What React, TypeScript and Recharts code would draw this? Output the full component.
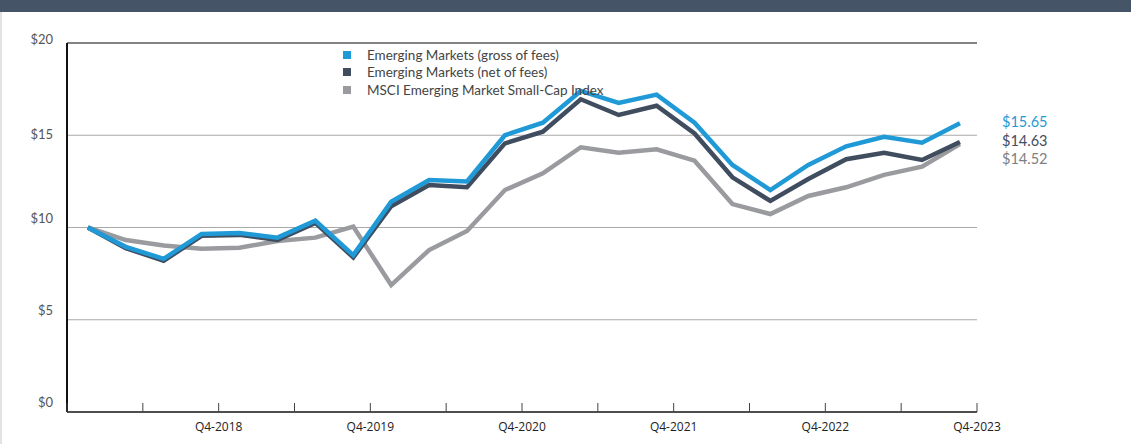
import React from 'react';
import { LineChart, Line, XAxis, YAxis, CartesianGrid, ReferenceLine } from 'recharts';

// Quarter-end values of a $10 investment (x measured in quarters after Q4-2017)
const startOffset = 0.55;
const grossOfFees = [10.0, 8.95, 8.3, 9.65, 9.7, 9.45, 10.37, 8.5, 11.4, 12.57, 12.5, 15.0, 15.68, 17.4, 16.75, 17.2, 15.68, 13.39, 12.03, 13.39, 14.4, 14.92, 14.6, 15.65];
const netOfFees = [10.0, 8.88, 8.2, 9.55, 9.6, 9.33, 10.25, 8.38, 11.15, 12.3, 12.18, 14.56, 15.19, 16.95, 16.1, 16.6, 15.1, 12.72, 11.44, 12.63, 13.7, 14.05, 13.66, 14.63];
const msciIndex = [10.0, 9.32, 9.02, 8.85, 8.9, 9.27, 9.45, 10.05, 6.88, 8.78, 9.81, 12.03, 12.94, 14.35, 14.05, 14.24, 13.62, 11.27, 10.73, 11.71, 12.18, 12.85, 13.3, 14.52];

const xTicks = [0, 2, 4, 6, 8, 10, 12, 14, 16, 18, 20, 22, 24];
const xTickLabels: Record<number, string> = { 4: 'Q4-2018', 8: 'Q4-2019', 12: 'Q4-2020', 16: 'Q4-2021', 20: 'Q4-2022', 24: 'Q4-2023' };
const yTicks = [0, 5, 10, 15, 20];
const yTickLabels = ['$0', '$5', '$10', '$15', '$20'];

const seriesNames = ['Emerging Markets (gross of fees)', 'Emerging Markets (net of fees)', 'MSCI Emerging Market Small-Cap Index'];
const endLabels = ['$15.65', '$14.63', '$14.52'];

const COLORS = ['#1f9ad6', '#3f4d5f', '#9a9b9f'];
const END_COLORS = ['#1f9ad6', '#3f4d5f', '#7d7e82'];

const chartData = grossOfFees.map((g, i) => ({
  x: i + startOffset,
  gross: g,
  net: netOfFees[i],
  idx: msciIndex[i],
}));

const FONT = 'Lato, "Open Sans", sans-serif';

const XTick = (props: any) => {
  const { x, y, payload } = props;
  const label = xTickLabels[payload.value];
  return (
    <g>
      <line x1={x} x2={x} y1={y} y2={y - 9} stroke="#444" strokeWidth={1} />
      {label && (
        <text x={x} y={y + 19} textAnchor="middle" fontSize={12} fill="#222" fontFamily='"Open Sans", sans-serif'>
          {label}
        </text>
      )}
    </g>
  );
};

const yDy: Record<number, number> = { 20: 1, 15: 4, 10: -5, 5: -5, 0: -5 };

const YTick = (props: any) => {
  const { x, y, payload } = props;
  const i = yTicks.indexOf(payload.value);
  return (
    <text x={x} y={y + (yDy[payload.value] ?? 0)} textAnchor="end" fontSize={13} fill="#555" fontFamily={FONT}>
      {yTickLabels[i]}
    </text>
  );
};

export default function App() {
  return (
    <div style={{ position: 'absolute', left: 0, top: 0, width: 1131, height: 444, background: '#fff', overflow: 'hidden' }}>
      <div style={{ position: 'absolute', left: 0, top: 0, width: 1131, height: 12, background: '#455567' }} />
      <div style={{ position: 'absolute', left: 0, top: 12, width: 2, height: 432, background: '#e2e2e2' }} />
      <LineChart width={1131} height={444} data={chartData} margin={{ top: 43, right: 154, bottom: 0, left: 7 }}>
        <CartesianGrid vertical={false} stroke="#a9a9a9" strokeWidth={1} />
        <ReferenceLine y={20} stroke="#6a6a6a" strokeWidth={1.3} />
        <XAxis
          type="number"
          dataKey="x"
          domain={[0, 24]}
          ticks={xTicks}
          interval={0}
          height={32}
          tickSize={0}
          tickMargin={0}
          tickLine={false}
          axisLine={{ stroke: '#222', strokeWidth: 1.5 }}
          tick={<XTick />}
        />
        <YAxis
          type="number"
          domain={[0, 20]}
          ticks={yTicks}
          width={60}
          tickSize={0}
          tickMargin={14}
          tickLine={false}
          axisLine={{ stroke: '#111', strokeWidth: 2 }}
          tick={<YTick />}
        />
        <Line dataKey="idx" stroke={COLORS[2]} strokeWidth={4.5} dot={false} isAnimationActive={false} />
        <Line dataKey="net" stroke={COLORS[1]} strokeWidth={4.5} dot={false} isAnimationActive={false} />
        <Line dataKey="gross" stroke={COLORS[0]} strokeWidth={4.5} dot={false} isAnimationActive={false} />
      </LineChart>
      <div style={{ position: 'absolute', left: 343, top: 46, fontFamily: FONT, fontSize: 13.5, color: '#444' }}>
        {seriesNames.map((n, i) => (
          <div key={n} style={{ display: 'flex', alignItems: 'center', height: 17.5 }}>
            <div style={{ width: 8, height: 8, background: COLORS[i], marginRight: 16 }} />
            <span>{n}</span>
          </div>
        ))}
      </div>
      {endLabels.map((t, i) => (
        <div
          key={t}
          style={{
            position: 'absolute',
            left: 1002,
            top: 113 + i * 18.5,
            fontFamily: FONT,
            fontSize: 14.5,
            lineHeight: '18px',
            color: END_COLORS[i],
          }}
        >
          {t}
        </div>
      ))}
    </div>
  );
}
